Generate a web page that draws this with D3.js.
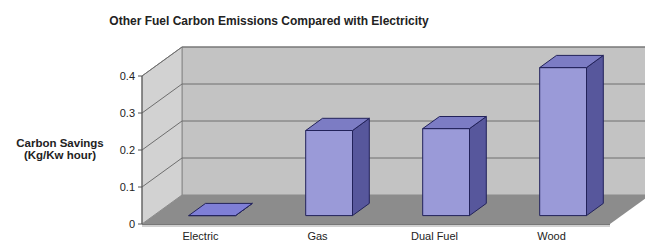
<!DOCTYPE html>
<html>
<head>
<meta charset="utf-8">
<script src="https://cdn.jsdelivr.net/npm/d3@7"></script>
<style>
  body { margin: 0; background: #fff; }
  text { font-family: "Liberation Sans", Arial, sans-serif; }
</style>
</head>
<body>
<div id="chart"></div>
<script>
// data
var categories = ["Electric", "Gas", "Dual Fuel", "Wood"];
var values = [0, 0.23, 0.235, 0.40];
var yTicks = [0, 0.1, 0.2, 0.3, 0.4];
var yTickLabels = ["0", "0.1", "0.2", "0.3", "0.4"];

var width = 645, height = 241;

// front plane of the 3d box
var frontLeft = 142, frontRight = 610, floorY = 224;
var depthX = 40, depthY = -29;       // offset of the back wall
var barFront = 0.29, barBack = 0.71; // bar depth as fraction of box depth

var svg = d3.select("#chart").append("svg")
    .attr("width", width)
    .attr("height", height);

var x = d3.scaleBand()
    .domain(categories)
    .range([frontLeft, frontRight])
    .paddingInner(0.6)
    .paddingOuter(0.3);

var y = d3.scaleLinear()
    .domain([0, 0.4])
    .range([floorY, 76]);

// project a point on the front plane back by depth fraction d
function pt(px, py, d) {
  return [px + d * depthX, py + d * depthY];
}
function poly(points) {
  return points.map(function(p) { return p[0].toFixed(1) + "," + p[1].toFixed(1); }).join(" ");
}

var yTop = y(0.4);

// floor front lip
svg.append("polygon")
    .attr("points", poly([[frontLeft, floorY], [frontRight, floorY], [frontRight, floorY + 3], [frontLeft, floorY + 3]]))
    .attr("fill", "#d0d0d0");

// back wall
svg.append("polygon")
    .attr("points", poly([pt(frontLeft, floorY, 1), pt(frontLeft, yTop, 1), pt(frontRight, yTop, 1), pt(frontRight, floorY, 1)]))
    .attr("fill", "#c3c3c3")
    .attr("stroke", "#8a8a8a")
    .attr("stroke-width", 1);

// left wall
svg.append("polygon")
    .attr("points", poly([[frontLeft, floorY], [frontLeft, yTop], pt(frontLeft, yTop, 1), pt(frontLeft, floorY, 1)]))
    .attr("fill", "#d2d2d2")
    .attr("stroke", "#8a8a8a")
    .attr("stroke-width", 1);

// floor
svg.append("polygon")
    .attr("points", poly([[frontLeft, floorY], [frontRight, floorY], pt(frontRight, floorY, 1), pt(frontLeft, floorY, 1)]))
    .attr("fill", "#8c8c8c");

// gridlines on back and left wall
var grid = svg.append("g").attr("class", "grid");
yTicks.filter(function(t) { return t > 0; }).forEach(function(t) {
  var a = [frontLeft, y(t)], b = pt(frontLeft, y(t), 1), c = pt(frontRight, y(t), 1);
  grid.append("polyline")
      .attr("points", poly([a, b, c]))
      .attr("fill", "none")
      .attr("stroke", "#6e6e6e")
      .attr("stroke-width", 1);
});

// front y axis
svg.append("line")
    .attr("x1", frontLeft).attr("x2", frontLeft)
    .attr("y1", floorY).attr("y2", yTop)
    .attr("stroke", "#555")
    .attr("stroke-width", 1);
svg.append("line")
    .attr("x1", frontLeft).attr("x2", frontRight)
    .attr("y1", floorY + 0.5).attr("y2", floorY + 0.5)
    .attr("stroke", "#777")
    .attr("stroke-width", 1);

var axis = svg.append("g").attr("class", "yaxis");
yTicks.forEach(function(t, i) {
  axis.append("line")
      .attr("x1", frontLeft - 4).attr("x2", frontLeft)
      .attr("y1", y(t)).attr("y2", y(t))
      .attr("stroke", "#555");
  axis.append("text")
      .attr("x", 135)
      .attr("y", y(t))
      .attr("dy", "0.35em")
      .attr("text-anchor", "end")
      .attr("font-size", "11px")
      .attr("fill", "#222")
      .text(yTickLabels[i]);
});

// bars
var bars = svg.append("g").attr("class", "bars")
    .selectAll("g")
    .data(categories.map(function(c, i) { return { cat: c, value: values[i] }; }))
    .enter().append("g");

bars.each(function(d) {
  var g = d3.select(this);
  var x0 = x(d.cat), x1 = x(d.cat) + x.bandwidth();
  var yb = y(0), yt = y(d.value);
  // front face
  g.append("polygon")
      .attr("points", poly([pt(x0, yb, barFront), pt(x1, yb, barFront), pt(x1, yt, barFront), pt(x0, yt, barFront)]))
      .attr("fill", "#9a9ad8")
      .attr("stroke", "#22225a")
      .attr("stroke-width", 1);
  // side face
  g.append("polygon")
      .attr("points", poly([pt(x1, yb, barFront), pt(x1, yb, barBack), pt(x1, yt, barBack), pt(x1, yt, barFront)]))
      .attr("fill", "#57579c")
      .attr("stroke", "#22225a")
      .attr("stroke-width", 1);
  // top face
  g.append("polygon")
      .attr("points", poly([pt(x0, yt, barFront), pt(x1, yt, barFront), pt(x1, yt, barBack), pt(x0, yt, barBack)]))
      .attr("fill", d.value === 0 ? "#7f7fd6" : "#7c7cc4")
      .attr("stroke", "#22225a")
      .attr("stroke-width", 1);
});

// category labels
svg.append("g").selectAll("text")
    .data(categories)
  .enter().append("text")
    .attr("x", function(d) { return x(d) + x.bandwidth() / 2; })
    .attr("y", 240)
    .attr("text-anchor", "middle")
    .attr("font-size", "11px")
    .attr("fill", "#222")
    .text(function(d) { return d; });

// axis title
svg.append("text")
    .attr("x", 60).attr("y", 147)
    .attr("text-anchor", "middle")
    .attr("font-size", "11.5px")
    .attr("font-weight", "bold")
    .attr("fill", "#222")
    .text("Carbon Savings");
svg.append("text")
    .attr("x", 60).attr("y", 159)
    .attr("text-anchor", "middle")
    .attr("font-size", "11.5px")
    .attr("font-weight", "bold")
    .attr("fill", "#222")
    .text("(Kg/Kw hour)");

// chart title
svg.append("text")
    .attr("x", 269).attr("y", 25)
    .attr("text-anchor", "middle")
    .attr("font-size", "12px")
    .attr("font-weight", "bold")
    .attr("fill", "#222")
    .text("Other Fuel Carbon Emissions Compared with Electricity");
</script>
</body>
</html>
